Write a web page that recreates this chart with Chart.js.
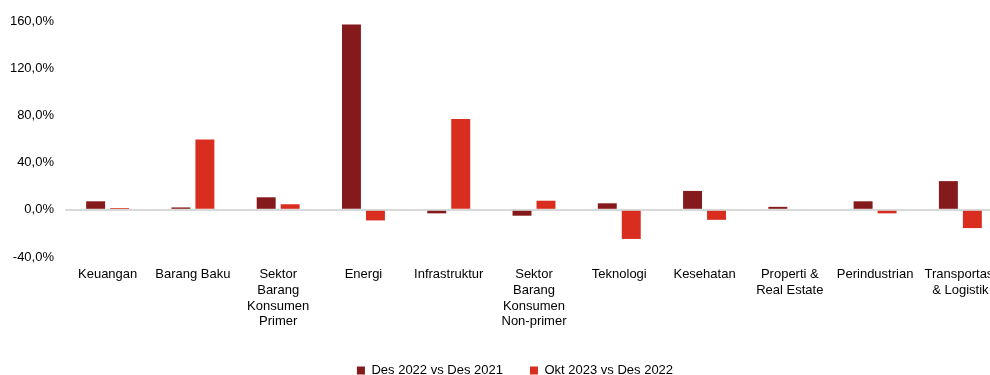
<!DOCTYPE html>
<html lang="id">
<head>
<meta charset="UTF-8">
<title>Sektor</title>
<script src="https://cdn.jsdelivr.net/npm/chart.js"></script>
<style>
    html, body { margin: 0; padding: 0; background: #fff; overflow: hidden; }
    #wrap { width: 1030px; height: 375px; }
</style>
</head>
<body>
<div id="wrap"><canvas id="grafik"></canvas></div>
<script>
    const kategori = [
        'Keuangan',
        'Barang Baku',
        ['Sektor', 'Barang', 'Konsumen', 'Primer'],
        'Energi',
        'Infrastruktur',
        ['Sektor', 'Barang', 'Konsumen', 'Non-primer'],
        'Teknologi',
        'Kesehatan',
        ['Properti &', 'Real Estate'],
        'Perindustrian',
        ['Transportasi', '& Logistik']
    ];
    const des2022 = [7.2, 2.0, 10.6, 157.0, -3.0, -5.0, 5.5, 16.0, 2.5, 7.2, 24.3];
    const okt2023 = [1.5, 59.6, 4.7, -9.0, 77.0, 7.7, -24.7, -8.5, 0.0, -3.0, -15.5];
    const ticksY = { min: -40, max: 160, step: 40 };

    Chart.defaults.font.family = '"Liberation Sans", Arial, sans-serif';
    Chart.defaults.font.size = 13;
    Chart.defaults.color = '#000';

    new Chart(document.getElementById('grafik'), {
        type: 'bar',
        data: {
            labels: kategori,
            datasets: [
                { label: 'Des 2022 vs Des 2021', data: des2022, backgroundColor: '#841a1b' },
                { label: 'Okt 2023 vs Des 2022', data: okt2023, backgroundColor: '#d92e1f' }
            ]
        },
        options: {
            responsive: true,
            maintainAspectRatio: false,
            animation: false,
            categoryPercentage: 0.5625,
            barPercentage: 0.79,
            layout: { padding: { top: 21, right: 0, left: 0, bottom: -12 } },
            plugins: {
                legend: {
                    position: 'bottom',
                    labels: { boxWidth: 8, boxHeight: 8, padding: 27, color: '#000' }
                },
                tooltip: { enabled: false }
            },
            scales: {
                x: {
                    grid: { display: false },
                    border: { display: false },
                    ticks: { maxRotation: 0, autoSkip: false, padding: 2 },
                    afterFit: (s) => { s.height = 80; }
                },
                y: {
                    min: ticksY.min,
                    max: ticksY.max,
                    border: { display: false },
                    grid: {
                        drawTicks: false,
                        lineWidth: 2,
                        color: (c) => c.tick && c.tick.value === 0 ? '#d9d9d9' : 'rgba(0,0,0,0)'
                    },
                    ticks: {
                        stepSize: ticksY.step,
                        padding: 11,
                        callback: (v) => v.toFixed(1).replace('.', ',') + '%'
                    },
                    afterFit: (s) => { s.width = 65; }
                },
                // leerer Rand rechts, damit die Legende mittig bleibt
                kanan: {
                    position: 'right',
                    grid: { display: false },
                    border: { display: false },
                    ticks: { display: false },
                    afterFit: (s) => { s.width = 27; }
                }
            }
        }
    });
</script>
</body>
</html>
